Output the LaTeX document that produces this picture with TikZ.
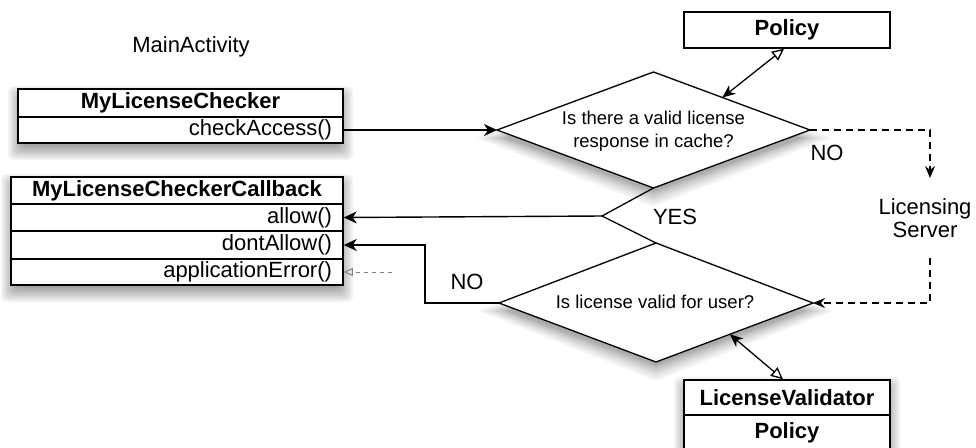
\documentclass[tikz,border=0pt]{standalone}
\usepackage{fontspec}
\setmainfont{Liberation Sans}
\usetikzlibrary{arrows.meta,calc}

% soft drop shadow under a box given by two corners: stacked translucent layers
\newcommand\castrect[4]{%
  \foreach \r in {-4,-2,0,2,4,6,8,10} {
    \fill[black, opacity=0.05, rounded corners=5pt]
      ({#1-\r},{#2+7-\r}) rectangle ({#3+\r},{#4+7+\r});
  }}
% soft drop shadow under a diamond given by its west x, north y, east x, south y and middle:
% opaque grey layers, from the widest and lightest to the smallest and darkest
\newcommand\castdiamond[5]{%
  \foreach \r/\c in {10/4,8/7,6/10,4/14,2/18,0/22,-2/27,-4/32} {
    \fill[black!\c]
      ({#1-2.0*\r},{#5+8}) -- ({(#1+#3)/2},{#2+8-1.07*\r}) --
      ({#3+2.0*\r},{#5+8}) -- ({(#1+#3)/2},{#4+8+1.07*\r}) -- cycle;
  }}

\begin{document}
\begin{tikzpicture}[x=1pt,y=-1pt,
  every node/.style={font=\fontsize{22}{23}\selectfont, inner sep=0pt},
  classrow/.style={draw, line width=1.5pt, fill=white, minimum height=#1,
      inner xsep=11pt, align=right},
  classhead/.style={draw, line width=1.5pt, fill=white, minimum height=#1,
      font=\fontsize{22}{23}\selectfont\bfseries},
  decision/.style={draw, line width=1.3pt, fill=white, line join=miter},
  question/.style={font=\fontsize{18.5}{23}\selectfont, align=center},
  flow/.style={line width=1.4pt, -{Stealth[length=13pt,width=12pt,inset=4pt]}},
  dashflow/.style={line width=1.3pt, dash pattern=on 7pt off 5pt,
      -{Stealth[length=12pt,width=10pt,inset=4pt]}},
  assoc/.style={line width=1.3pt,
      {Stealth[length=13pt,width=11pt,inset=4pt]}-{Triangle[open,length=12pt,width=11pt,fill=white]}},
  branch/.style={font=\fontsize{22}{23}\selectfont}
]
\clip (0,0) rectangle (976,447);
\fill[white] (0,0) rectangle (976,447);

% ---- shadows under the decisions and the class boxes
\castdiamond{497}{72}{810}{188}{130}
\castdiamond{499}{243}{813}{362}{303}
\castrect{18}{89}{343}{143}
\castrect{11}{177}{343}{285}
\castrect{684}{380}{890}{450}

% ---- activity title
\node (title) at (191,47) {MainActivity};

% ---- MyLicenseChecker class
\node[classhead=28pt, minimum width=325pt] (mlc) at (180.5,103) {MyLicenseChecker};
\node[classrow=26pt, text width=303pt] (chk) at (180.5,130) {checkAccess()};

% ---- MyLicenseCheckerCallback class
\node[classhead=27pt, minimum width=332pt] (cb) at (177,190.5) {MyLicenseCheckerCallback};
\node[classrow=27pt, text width=310pt] (allow) at (177,217.5) {allow()};
\node[classrow=28pt, text width=310pt] (dal) at (177,245) {dontAllow()};
\node[classrow=26pt, text width=310pt] (aerr) at (177,272) {applicationError()};

% ---- Policy class
\node[classhead=36pt, minimum width=206pt] (pol) at (787,30) {Policy};

% ---- LicenseValidator class
\node[classhead=35pt, minimum width=206pt] (lv) at (787,397.5) {LicenseValidator};
\node[classhead=35pt, minimum width=206pt] (lvp) at (787,432.5) {Policy};

% ---- decision: cached response
\coordinate (d1w) at (497,130);
\coordinate (d1n) at (653.5,72);
\coordinate (d1e) at (810,130);
\coordinate (d1s) at (653.5,188);
\path[decision] (d1w) -- (d1n) -- (d1e) -- (d1s) -- cycle;
\node[question] (q1) at (653.5,131) {Is there a valid license\\response in cache?};

% ---- decision: license valid for user
\coordinate (d2w) at (499,303);
\coordinate (d2n) at (656,243);
\coordinate (d2e) at (813,303);
\coordinate (d2s) at (656,362);
\path[decision] (d2w) -- (d2n) -- (d2e) -- (d2s) -- cycle;
\node[question] (q2) at (655,302) {Is license valid for user?};

% ---- licensing server
\node[align=center] (ls) at (925,218.5) {Licensing\\Server};
\coordinate (lsTop) at (930,178);
\coordinate (lsBot) at (930,258);

% ---- connectors
\draw[flow] (chk.east) -- (d1w);

\coordinate (yes) at (602,216);
\draw[line width=1.3pt, line join=miter] (d1s) -- (yes) -- (d2n);
\draw[flow] (yes) -- (allow.east);
\node[branch] (yeslbl) at (675,217) {YES};

\coordinate (noCorner) at (425,245);
\draw[flow] (d2w) -| (noCorner) -- (dal.east);
\node[branch] (no2) at (467,282) {NO};

\coordinate (errTail) at (392,272);
\draw[line width=1pt, gray, dash pattern=on 4pt off 4pt,
      -{Triangle[open,length=9pt,width=8pt]}] (errTail) -- (aerr.east);

\draw[dashflow] (d1e) -| (lsTop);
\node[branch] (no1) at (827,153) {NO};
\draw[dashflow] (lsBot) |- (d2e);

\draw[assoc] ($(d1n)!0.44!(d1e)$) -- ([xshift=-3pt]pol.south);
\draw[assoc] ($(d2e)!0.53!(d2s)$) -- ([xshift=-4pt]lv.north);
\end{tikzpicture}
\end{document}
